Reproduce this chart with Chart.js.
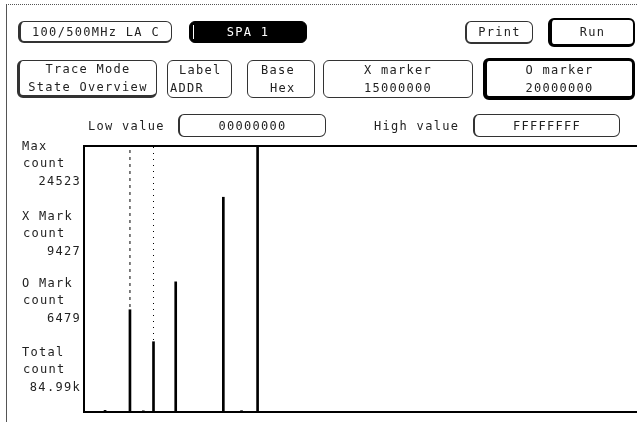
<!DOCTYPE html>
<html>
<head>
<meta charset="utf-8">
<script src="https://cdn.jsdelivr.net/npm/chart.js@4/dist/chart.umd.min.js"></script>
<style>
  html, body { margin: 0; padding: 0; background: #fff; }
  #screen { position: relative; width: 637px; height: 422px; overflow: hidden;
            font-family: "DejaVu Sans Mono", monospace; font-size: 12px; letter-spacing: 1.3px; color: #222; }
  #chart { position: absolute; left: 0; top: 0; }
  .frame { position: absolute; left: 6px; top: 4px; width: 640px; height: 430px;
           border-left: 1px solid #555; border-top: 1px dotted #555; }
  .btn { position: absolute; box-sizing: border-box; border: 1px solid #333; border-radius: 6px;
         display: flex; flex-direction: column; justify-content: center; align-items: center; line-height: 18px; }
  .txt { position: absolute; line-height: 14px; white-space: pre; }
  .side { position: absolute; line-height: 14px; white-space: pre; }
  .num { text-align: right; width: 60px; left: 21px; }
</style>
</head>
<body>
<div id="screen">
  <canvas id="chart" width="637" height="422"></canvas>
  <div class="frame"></div>
  <div id="ui"></div>
</div>
<script>
// histogram buckets (address, count) read from the display
const addresses = [0x09600000, 0x15000000, 0x1B400000, 0x20000000, 0x2A600000, 0x40A00000, 0x49200000, 0x50A00000];
const counts    = [150, 9427, 110, 6479, 12000, 19800, 120, 24523];
const lowValue = 0x00000000;
const highValue = 0xFFFFFFFF;
const xMarker = 0x15000000;
const oMarker = 0x20000000;
const maxCount = 24523;
const sideLabels = [
  ['Max', 'count', '24523'],
  ['X Mark', 'count', '9427'],
  ['O Mark', 'count', '6479'],
  ['Total', 'count', '84.99k']
];
const sideTops = [146, 216, 283, 352];

const hex8 = v => v.toString(16).toUpperCase().padStart(8, '0');

// screen furniture
const ui = document.getElementById('ui');
function box(x, y, w, h, lines, style) {
  const d = document.createElement('div');
  d.className = 'btn';
  Object.assign(d.style, { left: x + 'px', top: y + 'px', width: w + 'px', height: h + 'px' }, style || {});
  lines.forEach(t => { const s = document.createElement('div'); s.textContent = t; d.appendChild(s); });
  ui.appendChild(d);
  return d;
}
function text(x, y, t, cls) {
  const d = document.createElement('div');
  d.className = cls || 'txt';
  d.textContent = t;
  d.style.left = x + 'px';
  d.style.top = (y - 7) + 'px';
  ui.appendChild(d);
  return d;
}

box(18, 21, 154, 22, ['100/500MHz LA C'], { borderLeftWidth: '3px', borderBottomWidth: '2px' });
const spa = box(189, 21, 118, 22, ['SPA 1'], { background: '#000', color: '#fff', borderColor: '#000' });
const notch = document.createElement('div');
Object.assign(notch.style, { position: 'absolute', left: '3px', top: '3px', width: '1px', height: '14px', background: '#fff' });
spa.appendChild(notch);
box(465, 21, 68, 23, ['Print'], { borderLeftWidth: '2px', borderBottomWidth: '2px' });
box(548, 18, 87, 29, ['Run'], { borderWidth: '2px', borderLeftWidth: '4px', borderBottomWidth: '3px', borderColor: '#000' });

box(17, 60, 140, 38, ['Trace Mode', 'State Overview'], { borderLeftWidth: '3px', borderBottomWidth: '3px' });
box(167, 60, 65, 38, [], {});
text(179, 70, 'Label');
text(170, 88, 'ADDR');
box(247, 60, 68, 38, [], {});
text(261, 70, 'Base');
text(270, 88, 'Hex');
box(323, 60, 150, 38, ['X marker', hex8(xMarker)], {});
box(483, 58, 152, 42, ['O marker', hex8(oMarker)], { borderWidth: '3px', borderLeftWidth: '4px', borderBottomWidth: '4px', borderColor: '#000' });

text(88, 126, 'Low value');
box(178, 114, 148, 23, [hex8(lowValue)], { borderLeftWidth: '2px' });
text(374, 126, 'High value');
box(473, 114, 147, 23, [hex8(highValue)], { borderLeftWidth: '2px' });

sideLabels.forEach((g, i) => {
  const y = sideTops[i];
  text(22, y, g[0], 'side');
  text(23, y + 17, g[1], 'side');
  text(21, y + 35, g[2], 'side num');
});

// plot border: left, top and bottom edges of the chart area
const borderPlugin = {
  id: 'plotBorder',
  afterDatasetsDraw(chart) {
    const { ctx, chartArea: a } = chart;
    ctx.save();
    ctx.fillStyle = '#000';
    ctx.fillRect(a.left - 2, a.top - 1, 2, a.bottom - a.top + 2);
    ctx.fillRect(a.left - 2, a.top - 1, chart.width - a.left + 2, 2);
    ctx.fillRect(a.left - 2, a.bottom - 1, chart.width - a.left + 2, 2);
    ctx.restore();
  }
};

new Chart(document.getElementById('chart'), {
  type: 'bar',
  data: {
    datasets: [
      {
        type: 'bar',
        data: addresses.map((a, i) => ({ x: a, y: counts[i] })),
        backgroundColor: '#000',
        barThickness: 2
      },
      {
        type: 'line',
        data: [{ x: xMarker, y: 0 }, { x: xMarker, y: maxCount }],
        borderColor: '#000', borderWidth: 1, borderDash: [3, 4], pointRadius: 0
      },
      {
        type: 'line',
        data: [{ x: oMarker, y: 0 }, { x: oMarker, y: maxCount }],
        borderColor: '#000', borderWidth: 1, borderDash: [1, 5], pointRadius: 0
      }
    ]
  },
  options: {
    responsive: false,
    animation: false,
    devicePixelRatio: 1,
    layout: { padding: { left: 85, top: 146, right: 4, bottom: 10 } },
    plugins: { legend: { display: false }, tooltip: { enabled: false } },
    scales: {
      x: { type: 'linear', min: lowValue, max: highValue, offset: false, display: false },
      y: { min: 0, max: maxCount, display: false }
    }
  },
  plugins: [borderPlugin]
});
</script>
</body>
</html>
